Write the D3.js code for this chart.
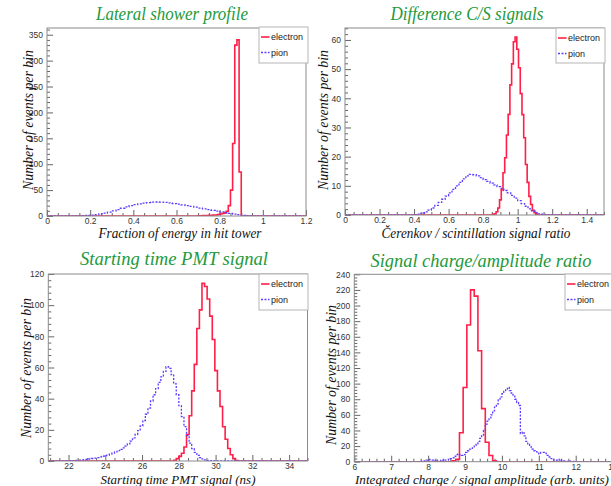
<!DOCTYPE html>
<html>
<head>
<meta charset="utf-8">
<script src="https://cdn.jsdelivr.net/npm/d3@7"></script>
<style>
	body { margin: 0; background: #fff; }
	svg { display: block; }
</style>
</head>
<body>
<svg id="chart" width="611" height="486"></svg>
<script>
// ---- Lateral shower profile (fraction of energy in hit tower)
const latElecStart = 0.70, latElecWidth = 0.01
const latElecCounts = [0.5, 0.5, 1, 1, 1, 1.5, 1.5, 2, 2, 3, 4, 5, 6, 9, 20, 50, 140, 330, 340, 85]
const latPionStart = 0.14, latPionWidth = 0.02
const latPionCounts = [0.3, 0.5, 1, 1.5, 2.5, 4, 5.5, 7.5, 10, 12.5, 15, 17.5, 20, 22, 23.5, 25, 26,
	26.8, 27, 26.8, 26.2, 25.2, 24, 22.8, 21.5, 20, 18.5, 17, 15.3, 13.8, 12.3, 10.8, 9.3, 7.8,
	6.3, 5, 3.8, 2.5, 1.3, 0.5, 0.2]
const latXTicks = [0, 0.2, 0.4, 0.6, 0.8, 1, 1.2]
const latYTicks = [0, 50, 100, 150, 200, 250, 300, 350]

// ---- Difference C/S signals (Cerenkov / scintillation ratio)
const csElecStart = 0.855, csElecWidth = 0.01
const csElecCounts = [0.2, 0.4, 1.1, 2.4, 5.2, 8.6, 14.5, 19.6, 27.4, 34.5, 44.6, 51.8, 59.4, 61,
	56.8, 50.5, 41.6, 34.4, 26.5, 17.3, 11.2, 6.4, 3.6, 1.6, 0.8, 0.3]
const csPionStart = 0.40, csPionWidth = 0.02
const csPionCounts = [0.1, 0.3, 0.6, 1.1, 1.7, 2.4, 3.3, 4.3, 5.4, 6.5, 7.6, 8.8, 10, 11.2, 12.4,
	13.4, 13.9, 13.8, 13.4, 12.8, 12.1, 11.5, 10.9, 10.3, 9.7, 9.1, 8.4, 7.6, 6.7, 5.8, 4.9, 3.9,
	3.0, 2.1, 1.4, 0.8, 0.4, 0.2, 0.1]
const csXTicks = [0, 0.2, 0.4, 0.6, 0.8, 1, 1.2, 1.4]
const csYTicks = [0, 10, 20, 30, 40, 50, 60]

// ---- Starting time PMT signal (ns)
const pmtElecStart = 27.72, pmtElecWidth = 0.14
const pmtElecCounts = [0.5, 1.5, 3, 5, 9, 17, 29, 45, 62, 85, 97, 114, 112, 104, 93, 78, 58, 45,
	35, 22, 14, 8, 4, 1.5, 0.3]
const pmtPionStart = 22.12, pmtPionWidth = 0.14
const pmtPionCounts = [0.2, 0.3, 0.4, 0.5, 0.7, 0.9, 1.1, 1.3, 1.6, 1.9, 2.2, 2.6, 3.0, 3.4, 3.8,
	4.4, 5.0, 5.8, 6.6, 7.5, 8.4, 9.5, 11, 12.8, 14.8, 17, 19.5, 22.5, 26, 30, 34, 38.5, 42.5,
	46.5, 50.5, 54, 57.5, 60.5, 59.5, 55.5, 49.5, 42.5, 35.5, 28.5, 22, 16.5, 11.5, 8, 5.5, 3.6,
	2.2, 1.3, 0.7, 0.4, 0.2, 0.1]
const pmtXTicks = [22, 24, 26, 28, 30, 32, 34]
const pmtYTicks = [0, 20, 40, 60, 80, 100, 120]

// ---- Signal charge / amplitude ratio (arb. units)
const qaElecStart = 8.65, qaElecWidth = 0.1
const qaElecCounts = [1, 3, 37, 95, 175, 220, 212, 142, 68, 25, 8, 1]
const qaPionStart = 7.80, qaPionWidth = 0.05
const qaPionCounts = [0.5, 1, 1, 2, 3, 2, 2, 1, 2, 1, 1, 2, 1, 2, 2, 3, 4, 5, 7, 9, 10, 9, 8, 9,
	12, 14, 16, 17, 19, 21, 23, 26, 30, 33, 40, 48, 52, 56, 60, 65, 70, 74, 79, 83, 87, 90, 92,
	95, 91, 88, 84, 80, 76, 72, 36, 38, 33, 26, 22, 19, 16, 14, 13, 11, 10, 12, 12, 11, 8, 6, 4,
	3, 2, 2, 1.5, 3, 2, 1, 1, 0.5, 1, 0.5, 0.5, 0.3]
const qaXTicks = [6, 7, 8, 9, 10, 11, 12, 13]
const qaYTicks = [0, 20, 40, 60, 80, 100, 120, 140, 160, 180, 200, 220, 240]

const ELEC_COLOR = '#ff1f48'
const PION_COLOR = '#5a3cff'
const TITLE_COLOR = '#1d9a3c'
const SERIF = '"Liberation Serif", "Times New Roman", serif'
const SANS = '"Liberation Sans", Arial, sans-serif'

const panels = [
	{
		title: 'Lateral shower profile', titlePos: [172, 20], titleLen: 152,
		xLabel: 'Fraction of energy in hit tower', xLabelPos: [180, 237.5], xLabelLen: 163, xLabelSize: 14.5,
		yLabelPos: [33, 120],
		frame: { x0: 47, x1: 306, y0: 28, y1: 216 },
		xDomain: [0, 1.2], yDomain: [0, 363], xMinor: 0.05, yMinor: 10,
		xTicks: latXTicks, yTicks: latYTicks,
		legend: { x: 259, y: 27, w: 49, h: 36 },
		elec: [latElecStart, latElecWidth, latElecCounts],
		pion: [latPionStart, latPionWidth, latPionCounts]
	},
	{
		title: 'Difference C/S signals', titlePos: [467, 20], titleLen: 153,
		xLabel: 'Čerenkov / scintillation signal ratio', xLabelPos: [476, 237.5], xLabelLen: 189, xLabelSize: 14.5,
		yLabelPos: [328, 120],
		frame: { x0: 345, x1: 604, y0: 28, y1: 215 },
		xDomain: [0, 1.5], yDomain: [0, 64.1], xMinor: 0.05, yMinor: 2,
		xTicks: csXTicks, yTicks: csYTicks,
		legend: { x: 556, y: 28, w: 49, h: 35 },
		elec: [csElecStart, csElecWidth, csElecCounts],
		pion: [csPionStart, csPionWidth, csPionCounts]
	},
	{
		title: 'Starting time PMT signal', titlePos: [174, 265], titleLen: 188,
		xLabel: 'Starting time PMT signal (ns)', xLabelPos: [178, 483.5], xLabelLen: 155, xLabelSize: 13.5,
		yLabelPos: [31, 368],
		frame: { x0: 48.3, x1: 307.5, y0: 274, y1: 461 },
		xDomain: [20.9, 35], yDomain: [0, 120], xMinor: 0.5, yMinor: 4,
		xTicks: pmtXTicks, yTicks: pmtYTicks,
		legend: { x: 259, y: 274, w: 49, h: 36 },
		elec: [pmtElecStart, pmtElecWidth, pmtElecCounts],
		pion: [pmtPionStart, pmtPionWidth, pmtPionCounts]
	},
	{
		title: 'Signal charge/amplitude ratio', titlePos: [481, 267], titleLen: 221,
		xLabel: 'Integrated charge / signal amplitude (arb. units)', xLabelPos: [482, 483.5], xLabelLen: 254, xLabelSize: 13.5,
		yLabelPos: [336, 375],
		frame: { x0: 354.3, x1: 612.6, y0: 274.3, y1: 461.7 },
		xDomain: [6, 13], yDomain: [0, 240], xMinor: 0.2, yMinor: 4,
		xTicks: qaXTicks, yTicks: qaYTicks,
		legend: { x: 565, y: 274, w: 49, h: 36 },
		elec: [qaElecStart, qaElecWidth, qaElecCounts],
		pion: [qaPionStart, qaPionWidth, qaPionCounts]
	}
]

const svg = d3.select('#chart')
svg.append('rect').attr('width', 611).attr('height', 486).attr('fill', '#fff')

panels.forEach((p, i) => drawPanel(p, i))

/**
 * Step points of a histogram, running along zero outside the filled bins.
 */
function histPoints(start, width, counts, domain) {
	let pts = [[domain[0], 0]]
	counts.forEach((c, i) => pts.push([start + i * width, c]))
	pts.push([start + counts.length * width, 0])
	pts.push([domain[1], 0])
	return pts
}

function minorTicks(domain, step, majors) {
	let out = []
	let k0 = Math.ceil(domain[0] / step - 1e-6)
	for (let k = k0; k * step <= domain[1] + 1e-9; k++) {
		let v = +(k * step).toFixed(6)
		if (!majors.some(m => Math.abs(m - v) < step / 10)) out.push(v)
	}
	return out
}

function drawPanel(p, idx) {
	let f = p.frame
	let g = svg.append('g')

	let x = d3.scaleLinear().domain(p.xDomain).range([f.x0, f.x1])
	let y = d3.scaleLinear().domain(p.yDomain).range([f.y1, f.y0])

	// Axes, ROOT style: ticks pointing inwards
	let axisFont = g => g.selectAll('text')
		.attr('font-family', SANS)
		.attr('font-size', 8.5).attr('fill', '#333')
	let tickColor = a => a.selectAll('line').attr('stroke', '#666')

	g.append('g')
		.attr('transform', `translate(0, ${f.y1})`)
		.call(d3.axisBottom(x).tickValues(p.xTicks).tickSize(-6).tickPadding(2)
			.tickFormat(d3.format('~g')))
		.call(a => a.select('.domain').remove())
		.call(tickColor)
		.call(axisFont)
	g.append('g')
		.attr('transform', `translate(0, ${f.y1})`)
		.call(d3.axisBottom(x).tickValues(minorTicks(p.xDomain, p.xMinor, p.xTicks))
			.tickSize(-3).tickFormat(''))
		.call(a => a.select('.domain').remove())
		.call(tickColor)

	g.append('g')
		.attr('transform', `translate(${f.x0}, 0)`)
		.call(d3.axisLeft(y).tickValues(p.yTicks).tickSize(-6).tickPadding(4)
			.tickFormat(d3.format('~g')))
		.call(a => a.select('.domain').remove())
		.call(tickColor)
		.call(axisFont)
	g.append('g')
		.attr('transform', `translate(${f.x0}, 0)`)
		.call(d3.axisLeft(y).tickValues(minorTicks(p.yDomain, p.yMinor, p.yTicks))
			.tickSize(-3).tickFormat(''))
		.call(a => a.select('.domain').remove())
		.call(tickColor)

	// Histograms, clipped to the frame
	let clipId = 'clip' + idx
	svg.append('clipPath').attr('id', clipId)
		.append('rect')
		.attr('x', f.x0).attr('y', f.y0 - 2)
		.attr('width', f.x1 - f.x0).attr('height', f.y1 - f.y0 + 2)

	let line = d3.line()
		.x(d => x(d[0]))
		.y(d => y(d[1]))
		.curve(d3.curveStepAfter)

	let hists = g.append('g').attr('clip-path', `url(#${clipId})`)
	hists.append('path')
		.datum(histPoints(p.elec[0], p.elec[1], p.elec[2], p.xDomain))
		.attr('fill', 'none')
		.attr('stroke', ELEC_COLOR)
		.attr('stroke-width', 1.6)
		.attr('d', line)
	hists.append('path')
		.datum(histPoints(p.pion[0], p.pion[1], p.pion[2], p.xDomain))
		.attr('fill', 'none')
		.attr('stroke', PION_COLOR)
		.attr('stroke-width', 1.3)
		.attr('stroke-dasharray', '2,1.5')
		.attr('d', line)

	// Frame
	g.append('rect')
		.attr('x', f.x0).attr('y', f.y0)
		.attr('width', f.x1 - f.x0).attr('height', f.y1 - f.y0)
		.attr('fill', 'none').attr('stroke', '#8a8a8a').attr('stroke-width', 1)

	// Legend
	let L = p.legend
	let leg = g.append('g')
	leg.append('rect')
		.attr('x', L.x).attr('y', L.y).attr('width', L.w).attr('height', L.h)
		.attr('fill', '#fff').attr('stroke', '#b5b5b5').attr('stroke-width', 1)
	let entries = [
		{ name: 'electron', color: ELEC_COLOR, dash: null, width: 1.6, dy: 10 },
		{ name: 'pion', color: PION_COLOR, dash: '2,1.5', width: 1.3, dy: 25.5 }
	]
	entries.forEach(e => {
		leg.append('line')
			.attr('x1', L.x + 2).attr('x2', L.x + 10.5)
			.attr('y1', L.y + e.dy).attr('y2', L.y + e.dy)
			.attr('stroke', e.color).attr('stroke-width', e.width)
			.attr('stroke-dasharray', e.dash)
		leg.append('text')
			.attr('x', L.x + 12).attr('y', L.y + e.dy)
			.attr('dy', '0.35em')
			.attr('font-family', SANS)
			.attr('font-size', 9).attr('fill', '#222')
			.text(e.name)
	})

	// Titles and axis labels
	g.append('text')
		.attr('x', p.titlePos[0]).attr('y', p.titlePos[1])
		.attr('text-anchor', 'middle')
		.attr('font-family', SERIF)
		.attr('font-style', 'italic').attr('font-size', 18)
		.attr('textLength', p.titleLen).attr('lengthAdjust', 'spacingAndGlyphs')
		.attr('fill', TITLE_COLOR)
		.text(p.title)

	g.append('text')
		.attr('x', p.xLabelPos[0]).attr('y', p.xLabelPos[1])
		.attr('text-anchor', 'middle')
		.attr('font-family', SERIF)
		.attr('font-style', 'italic').attr('font-size', p.xLabelSize)
		.attr('textLength', p.xLabelLen).attr('lengthAdjust', 'spacingAndGlyphs')
		.attr('fill', '#111')
		.text(p.xLabel)

	g.append('text')
		.attr('transform', `translate(${p.yLabelPos[0]}, ${p.yLabelPos[1]}) rotate(-90)`)
		.attr('text-anchor', 'middle')
		.attr('font-family', SERIF)
		.attr('font-style', 'italic').attr('font-size', 15)
		.attr('textLength', 140).attr('lengthAdjust', 'spacingAndGlyphs')
		.attr('fill', '#111')
		.text('Number of events per bin')
}
</script>
</body>
</html>
